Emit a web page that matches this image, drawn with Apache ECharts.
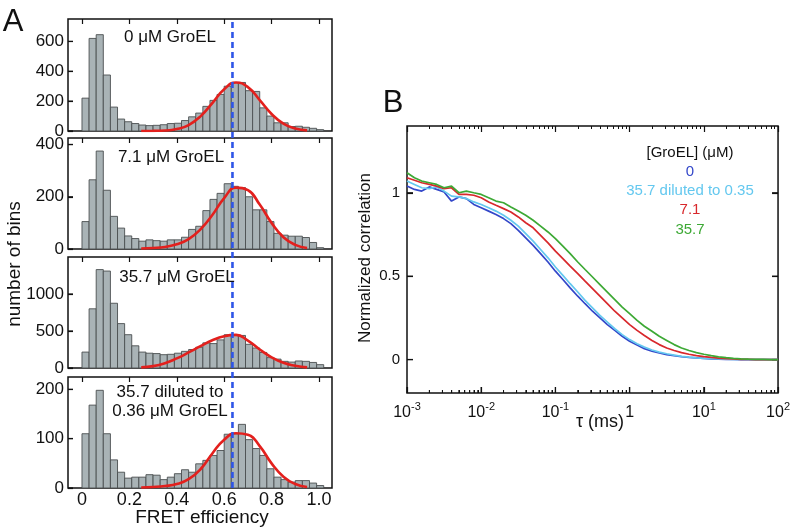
<!DOCTYPE html>
<html><head><meta charset="utf-8">
<script src="https://cdn.jsdelivr.net/npm/echarts@6/dist/echarts.min.js"></script>
<style>html,body{margin:0;padding:0;background:#fff}#c{width:793px;height:530px}</style>
</head><body><div id="c"></div><script>
const FONT = "'Liberation Sans', Arial, Helvetica, sans-serif";

// ---- Panel A: FRET histograms (bin width 0.03, starting at 0) ----
const binWidth = 0.03;
const counts0   = [220,620,645,375,160,80,62,50,40,36,38,42,50,52,70,95,120,165,205,245,300,325,325,270,265,155,100,55,55,30,32,25,18,9];
const counts71  = [105,265,375,225,125,80,50,40,30,35,32,30,35,35,45,75,87,147,190,213,250,240,235,200,150,150,105,60,53,49,49,44,25,5];
const counts357 = [215,800,1330,1310,875,600,450,300,215,200,195,180,185,200,225,250,280,340,330,380,450,450,440,320,270,210,140,120,90,80,95,90,75,45];
const countsDil = [110,168,198,110,57,32,20,22,22,27,26,17,22,29,37,32,49,56,66,76,109,110,129,98,80,66,39,22,17,12,15,15,10,5];

const fitX   = [0.25,0.30,0.35,0.40,0.45,0.50,0.55,0.60,0.65,0.70,0.75,0.80,0.85,0.90,0.95];
const fit0   = [0,1,3,13,40,98,187,280,325,294,207,114,49,16,4];
const fit71  = [2,4,8,18,38,75,130,195,235,225,170,100,45,16,4];
const fit357 = [9,25,65,130,210,295,375,430,448,370,250,145,70,30,8];
const fitDil = [1,2,4,8,18,38,70,98,111,108,85,50,23,8,2];

const fretTicks = [0,0.2,0.4,0.6,0.8,1.0];
const yTicksA = [[0,200,400,600],[0,200,400],[0,500,1000],[0,100,200]];
const yMaxA = [750,425,1500,225];
const panelLabels = ['0 μM GroEL','7.1 μM GroEL','35.7 μM GroEL','35.7 diluted to\n0.36 μM GroEL'];
const dashX = 0.635;

// ---- Panel B: normalized correlation ----
const tau = [0.001,0.00126,0.00158,0.002,0.00251,0.00316,0.00398,0.00501,0.00631,0.00794,
  0.01,0.0126,0.0158,0.02,0.0251,0.0316,0.0398,0.0501,0.0631,0.0794,
  0.1,0.126,0.158,0.2,0.251,0.316,0.398,0.501,0.631,0.794,
  1,1.26,1.58,2,2.51,3.16,3.98,5.01,6.31,7.94,
  10,12.6,15.8,20,25.1,31.6,39.8,50.1,63.1,79.4,100];
const corr0 = [1.04,1.02,1.01,1.035,1.02,1.005,0.95,0.975,0.965,0.93, 0.91,0.89,0.87,0.845,0.815,0.775,0.73,0.685,0.635,0.585, 0.53,0.48,0.43,0.38,0.335,0.29,0.25,0.21,0.175,0.14, 0.11,0.087,0.066,0.05,0.04,0.03,0.024,0.018,0.013,0.01, 0.007,0.005,0.003,0.002,0.001,0,0,0,0,0,0];
const corrDil = [1.07,1.05,1.03,1.025,1.035,1.01,0.98,0.975,0.965,0.945, 0.93,0.91,0.89,0.865,0.835,0.80,0.755,0.71,0.66,0.61, 0.555,0.505,0.455,0.405,0.355,0.31,0.265,0.225,0.185,0.15, 0.12,0.095,0.075,0.058,0.045,0.035,0.027,0.02,0.015,0.011, 0.008,0.006,0.004,0.003,0.002,0.001,0,0,0,0,0];
const corr71 = [1.09,1.075,1.06,1.05,1.04,1.025,1.03,0.99,0.99,0.985, 0.97,0.945,0.925,0.905,0.885,0.855,0.82,0.79,0.745,0.70, 0.65,0.605,0.56,0.515,0.47,0.425,0.38,0.335,0.29,0.25, 0.21,0.175,0.145,0.115,0.09,0.07,0.055,0.042,0.032,0.024, 0.018,0.013,0.009,0.006,0.004,0.002,0.001,0,0,0,0];
const corr357 = [1.12,1.09,1.07,1.06,1.05,1.03,1.04,1.00,1.01,1.00, 0.99,0.97,0.95,0.94,0.915,0.89,0.865,0.835,0.80,0.765, 0.725,0.68,0.635,0.585,0.54,0.495,0.45,0.405,0.36,0.315, 0.275,0.235,0.20,0.17,0.14,0.115,0.09,0.07,0.055,0.042, 0.032,0.024,0.017,0.012,0.008,0.005,0.003,0.002,0.001,0,0];
const legendTitle = '[GroEL] (μM)';
const legendNames = ['0','35.7 diluted to 0.35','7.1','35.7'];
const corrColors = ['#3347c9','#64c8ef','#d8282c','#3da935'];
const majorTau = [0.001,0.01,0.1,1,10,100];
const yTicksB = [0,0.5,1];
const yMinB = -0.2, yMaxB = 1.4, tauMin = 0.001, tauMax = 100;

// minor tick positions for log axis
const minorTau = [];
for (let e = -3; e < 2; e++) for (let m = 2; m <= 9; m++) minorTau.push(+(m * Math.pow(10, e)).toPrecision(3));

// ---- layout ----
const aLeft = 68, aWidth = 264;
const aTops = [19,138,257,377], aHeights = [112,111,111,111];
const xMinA = -0.059, xMaxA = 1.055;
const tickStyle = {color:'#111', width:1.2};
const noLine = {show:false, onZero:false};

const grids = [], xAxes = [], yAxes = [], series = [];
const countsAll = [counts0,counts71,counts357,countsDil];
const fitsAll = [fit0,fit71,fit357,fitDil];

// tick marks drawn through the axes' own scales: item = [xValue, yValue, direction, length]
function tickSeries(xIdx, yIdx, items, width) {
  return {type:'custom', xAxisIndex:xIdx, yAxisIndex:yIdx, data:items, clip:false, silent:true, z:6,
    encode:{x:0, y:1},
    renderItem:function(params, api){
      const p = api.coord([api.value(0), api.value(1)]);
      const d = api.value(2), L = api.value(3);
      const dx = d === 2 ? L : (d === 3 ? -L : 0);
      const dy = d === 0 ? -L : (d === 1 ? L : 0);
      return {type:'line', shape:{x1:p[0], y1:p[1], x2:p[0]+dx, y2:p[1]+dy},
        style:{stroke:'#111', lineWidth:width}};
    }};
}

for (let i = 0; i < 4; i++) {
  grids.push({left:aLeft, top:aTops[i], width:aWidth, height:aHeights[i], show:true, borderColor:'#111', borderWidth:1.5, backgroundColor:'transparent', containLabel:false});
  const showLab = (i === 3);
  xAxes.push({type:'value', gridIndex:i, min:xMinA, max:xMaxA, position:'bottom',
    axisLine:noLine, splitLine:{show:false}, axisTick:{show:false},
    axisLabel:{show:showLab, customValues:fretTicks, margin:3, fontSize:18, fontFamily:FONT, color:'#111',
      formatter: v => (v === 0 ? '0' : v.toFixed(1))}});
  xAxes.push({type:'value', gridIndex:i, min:xMinA, max:xMaxA, position:'top',
    axisLine:noLine, splitLine:{show:false},
    axisTick:{show:true, inside:true, length:5, customValues:fretTicks, lineStyle:tickStyle},
    axisLabel:{show:false}});
  yAxes.push({type:'value', gridIndex:i, min:0, max:yMaxA[i], position:'left',
    axisLine:noLine, splitLine:{show:false},
    axisTick:{show:true, inside:true, length:5, customValues:yTicksA[i], lineStyle:tickStyle},
    axisLabel:{show:true, customValues:yTicksA[i], margin:4, fontSize:17, fontFamily:FONT, color:'#111',
      formatter: v => String(v)}});
  const data = countsAll[i].map((v, k) => [k * binWidth, (k + 1) * binWidth, v]);
  series.push({type:'custom', xAxisIndex:2*i, yAxisIndex:i, data:data, clip:true,
    encode:{x:[0,1], y:2},
    renderItem:function(params, api){
      const lo = api.value(0), hi = api.value(1), v = api.value(2);
      const p0 = api.coord([lo, v]), p1 = api.coord([hi, 0]);
      return {type:'rect', shape:{x:p0[0], y:p0[1], width:p1[0]-p0[0], height:p1[1]-p0[1]},
        style:{fill:'#a9b3b6', stroke:'#4b4f50', lineWidth:0.9}};
    }, z:2});
  series.push({type:'line', xAxisIndex:2*i, yAxisIndex:i, data:fitX.map((x,k)=>[x, fitsAll[i][k]]),
    smooth:0.5, showSymbol:false, symbol:'none', lineStyle:{color:'#e3201d', width:2.6}, z:4});
  series.push(tickSeries(2*i, i, yTicksA[i].map(v => [xMinA, v, 2, 5]), 1.2));
}

// overlay grid for the dashed line spanning all four panels
grids.push({left:aLeft, top:aTops[0], width:aWidth, height:aTops[3]+aHeights[3]-aTops[0], show:false});
xAxes.push({type:'value', gridIndex:4, min:xMinA, max:xMaxA, show:false});
yAxes.push({type:'value', gridIndex:4, min:0, max:1, show:false});
series.push({type:'line', xAxisIndex:8, yAxisIndex:4, data:[[dashX,0],[dashX,1]], showSymbol:false, symbol:'none',
  lineStyle:{color:'#2f55e8', width:2.6, type:[6,4]}, z:5});

// Panel B grid (grid 5)
const bLeft = 407, bTop = 126, bWidth = 374, bHeight = 267;
grids.push({left:bLeft, top:bTop, width:bWidth, height:bHeight, show:true, borderColor:'#111', borderWidth:1.5, backgroundColor:'transparent'});
const supLabel = v => {
  const e = Math.round(Math.log10(v));
  if (e === 0) return '{b|1}';
  return '{b|10}{s|' + e + '}';
};
const richB = {b:{fontSize:16, fontFamily:FONT, color:'#111', verticalAlign:'bottom', lineHeight:20},
               s:{fontSize:11, fontFamily:FONT, color:'#111', verticalAlign:'top', lineHeight:20, padding:[0,0,8,0]}};
const logBase = {type:'log', logBase:10, gridIndex:5, min:tauMin, max:tauMax, splitLine:{show:false}, minorTick:{show:false}};
const bX = xAxes.length;
xAxes.push(Object.assign({}, logBase, {position:'bottom', axisLine:noLine, axisTick:{show:false},
  axisLabel:{show:true, customValues:majorTau, margin:8, formatter:supLabel, rich:richB}}));
xAxes.push(Object.assign({}, logBase, {position:'top', axisLine:noLine,
  axisTick:{show:true, inside:true, length:6, customValues:majorTau, lineStyle:tickStyle},
  axisLabel:{show:false}}));
xAxes.push(Object.assign({}, logBase, {position:'top', axisLine:noLine,
  axisTick:{show:true, inside:true, length:3, customValues:minorTau, lineStyle:{color:'#111', width:1}},
  axisLabel:{show:false}}));
// bottom-edge ticks: top-anchored axes shifted down onto the bottom edge
xAxes.push(Object.assign({}, logBase, {position:'top', offset:-bHeight, axisLine:noLine,
  axisTick:{show:true, inside:false, length:6, customValues:majorTau, lineStyle:tickStyle},
  axisLabel:{show:false}}));
xAxes.push(Object.assign({}, logBase, {position:'top', offset:-bHeight, axisLine:noLine,
  axisTick:{show:true, inside:false, length:3, customValues:minorTau, lineStyle:{color:'#111', width:1}},
  axisLabel:{show:false}}));
const bY = yAxes.length;
yAxes.push({type:'value', gridIndex:5, min:yMinB, max:yMaxB, position:'left',
  axisLine:noLine, splitLine:{show:false},
  axisTick:{show:true, inside:true, length:6, customValues:yTicksB, lineStyle:tickStyle},
  axisLabel:{show:true, customValues:yTicksB, margin:7, fontSize:15, fontFamily:FONT, color:'#111'}});
yAxes.push({type:'value', gridIndex:5, min:yMinB, max:yMaxB, position:'right',
  axisLine:noLine, splitLine:{show:false},
  axisTick:{show:true, inside:true, length:6, customValues:yTicksB, lineStyle:tickStyle},
  axisLabel:{show:false}});

const corrAll = [corr0, corrDil, corr71, corr357];
corrAll.forEach((arr, j) => {
  series.push({type:'line', name:legendNames[j], xAxisIndex:bX, yAxisIndex:bY,
    data:tau.map((t,k)=>[t, arr[k]]), showSymbol:false, symbol:'none', smooth:false,
    lineStyle:{color:corrColors[j], width:1.7}, z:3+j});
});
series.push(tickSeries(bX, bY, majorTau.map(v => [v, yMinB, 0, 6]), 1.2));
series.push(tickSeries(bX, bY, minorTau.map(v => [v, yMinB, 0, 3]), 1));
series.push(tickSeries(bX, bY, yTicksB.map(v => [tauMin, v, 2, 6]), 1.2));
series.push(tickSeries(bX, bY, yTicksB.map(v => [tauMax, v, 3, 6]), 1.2));

const txt = (text, x, y, size, extra) => Object.assign({type:'text', x:x, y:y,
  style:{text:text, fontSize:size, fontFamily:FONT, fill:'#111', align:'center', verticalAlign:'middle'}}, extra || {});

const graphics = [
  txt('A', 13, 22, 31),
  txt('B', 393, 103, 31),
  txt(panelLabels[0], 170, 37, 17),
  txt(panelLabels[1], 171, 157, 17),
  txt(panelLabels[2], 177, 277, 17),
  txt(panelLabels[3], 170, 402, 17),
  txt('number of bins', 15, 264, 19, {rotation:Math.PI/2}),
  txt('FRET efficiency', 202, 518, 19),
  txt('Normalized correlation', 365, 258, 17, {rotation:Math.PI/2}),
  txt('τ (ms)', 600, 422, 18),
  txt(legendTitle, 690, 153, 15),
];
graphics[5].style.lineHeight = 19;
const legendY = [172,191,210,230];
legendNames.forEach((n, j) => {
  const t = txt(n, 690, legendY[j], 15);
  t.style.fill = corrColors[j];
  graphics.push(t);
});

const chart = echarts.init(document.getElementById('c'), null, {renderer:'canvas'});
chart.setOption({
  backgroundColor:'#fff',
  animation:false,
  grid:grids, xAxis:xAxes, yAxis:yAxes, series:series,
  graphic:graphics
});
</script></body></html>
